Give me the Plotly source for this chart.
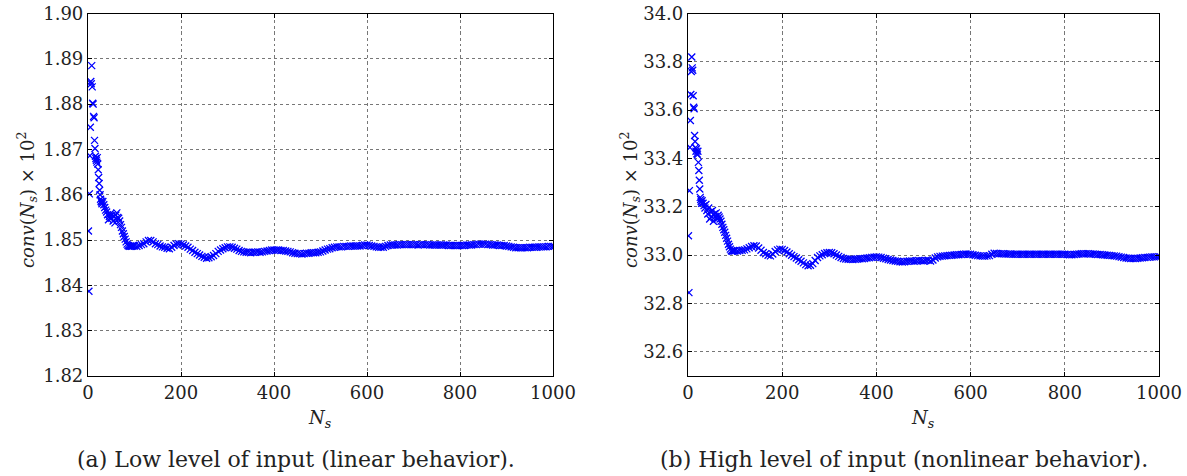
import plotly.graph_objects as go

# ---------------- data ----------------
# sample positions (N_s)
N_EARLY = list(range(1, 31)) + list(range(32, 100, 2))
N_TAIL = list(range(100, 1001, 5))

# (a) low level of input
CONV_A_EARLY = [
    1.8520, 1.8387, 1.8602, 1.8686, 1.8749, 1.8850, 1.8845, 1.8885, 1.8838, 1.8802,
    1.8800, 1.8773, 1.8770, 1.8720, 1.8702, 1.8685, 1.8680, 1.8676, 1.8672, 1.8682,
    1.8668, 1.8655, 1.8638, 1.8625, 1.8610, 1.8600, 1.8590, 1.8586, 1.8584, 1.8580,
    # 32..98 step 2
    1.8585, 1.8578, 1.8572, 1.8566, 1.8562, 1.8556, 1.8545, 1.8552, 1.8558, 1.8548,
    1.8555, 1.8542, 1.8552, 1.8538, 1.8555, 1.8560, 1.8550, 1.8548, 1.8542, 1.8534,
    1.8528, 1.8520, 1.8514, 1.8508, 1.8502, 1.8496, 1.8491, 1.8488, 1.8487, 1.8486,
    1.8487, 1.8486, 1.8487, 1.8488,
]
CONV_A_TAIL = [
    1.8487, 1.8486, 1.8488, 1.8490, 1.8492, 1.8496, 1.8499, 1.8499, 1.8496, 1.8492,
    1.8490, 1.8487, 1.8485, 1.8484, 1.8482, 1.8481, 1.8484, 1.8488, 1.8491, 1.8492,
    1.8491, 1.8489, 1.8487, 1.8484, 1.8480, 1.8477, 1.8473, 1.8470, 1.8467, 1.8464,
    1.8462, 1.8460, 1.8461, 1.8463, 1.8466, 1.8470, 1.8475, 1.8478, 1.8481, 1.8483,
    1.8485, 1.8485, 1.8484, 1.8482, 1.8480, 1.8477, 1.8475, 1.8474, 1.8473, 1.8473,
    1.8472, 1.8473, 1.8473, 1.8474, 1.8473, 1.8474, 1.8475, 1.8476, 1.8477, 1.8478,
    1.8478, 1.8478, 1.8478, 1.8477, 1.8477, 1.8476, 1.8475, 1.8474, 1.8472, 1.8471,
    1.8470, 1.8470, 1.8469, 1.8470, 1.8471, 1.8471, 1.8472, 1.8472, 1.8472, 1.8473,
    1.8474, 1.8476, 1.8478, 1.8480, 1.8481, 1.8483, 1.8484, 1.8485, 1.8485, 1.8485,
    1.8486, 1.8486, 1.8486, 1.8487, 1.8487, 1.8487, 1.8487, 1.8487, 1.8488, 1.8489,
    1.8489, 1.8488, 1.8487, 1.8486, 1.8485, 1.8484, 1.8484, 1.8484, 1.8486, 1.8488,
    1.8489, 1.8489, 1.8489, 1.8489, 1.8490, 1.8490, 1.8490, 1.8490, 1.8490, 1.8490,
    1.8490, 1.8490, 1.8489, 1.8490, 1.8490, 1.8490, 1.8490, 1.8489, 1.8489, 1.8489,
    1.8489, 1.8489, 1.8489, 1.8489, 1.8489, 1.8488, 1.8488, 1.8488, 1.8488, 1.8488,
    1.8488, 1.8488, 1.8488, 1.8489, 1.8489, 1.8489, 1.8490, 1.8490, 1.8491, 1.8491,
    1.8491, 1.8491, 1.8490, 1.8490, 1.8489, 1.8489, 1.8489, 1.8488, 1.8488, 1.8488,
    1.8487, 1.8486, 1.8485, 1.8484, 1.8483, 1.8483, 1.8483, 1.8483, 1.8483, 1.8483,
    1.8484, 1.8484, 1.8484, 1.8484, 1.8485, 1.8485, 1.8485, 1.8485, 1.8486, 1.8486,
    1.8486,
]

# (b) high level of input
CONV_B_EARLY = [
    33.080, 32.845, 33.267, 33.446, 33.557, 33.665, 33.760, 33.820, 33.775, 33.765,
    33.660, 33.612, 33.606, 33.495, 33.470, 33.445, 33.430, 33.440, 33.420, 33.415,
    33.430, 33.384, 33.350, 33.310, 33.274, 33.239, 33.230, 33.222, 33.215, 33.225,
    # 32..98 step 2
    33.215, 33.205, 33.195, 33.210, 33.185, 33.170, 33.195, 33.150, 33.180, 33.160,
    33.185, 33.140, 33.170, 33.160, 33.175, 33.150, 33.165, 33.158, 33.150, 33.140,
    33.128, 33.115, 33.105, 33.095, 33.082, 33.070, 33.058, 33.045, 33.035, 33.025,
    33.018, 33.016, 33.018, 33.017,
]
CONV_B_TAIL = [
    33.018, 33.017, 33.019, 33.020, 33.022, 33.026, 33.031, 33.036, 33.039, 33.038,
    33.030, 33.020, 33.011, 33.006, 33.000, 32.997, 33.005, 33.015, 33.022, 33.025,
    33.024, 33.019, 33.013, 33.006, 33.000, 32.994, 32.988, 32.981, 32.975, 32.968,
    32.961, 32.956, 32.958, 32.965, 32.978, 32.990, 32.997, 33.002, 33.007, 33.010,
    33.011, 33.010, 33.006, 33.001, 32.995, 32.990, 32.986, 32.984, 32.983, 32.983,
    32.982, 32.983, 32.984, 32.985, 32.985, 32.986, 32.988, 32.989, 32.991, 32.992,
    32.993, 32.992, 32.990, 32.987, 32.985, 32.982, 32.980, 32.978, 32.976, 32.975,
    32.973, 32.972, 32.973, 32.975, 32.976, 32.976, 32.975, 32.977, 32.978, 32.977,
    32.976, 32.978, 32.979, 32.976, 32.980, 32.988, 32.993, 32.995, 32.996, 32.997,
    32.998, 32.999, 33.000, 33.001, 33.002, 33.002, 33.003, 33.004, 33.005, 33.004,
    33.004, 33.002, 33.000, 32.998, 32.997, 32.996, 32.996, 32.997, 32.998, 33.004,
    33.008, 33.007, 33.006, 33.006, 33.006, 33.005, 33.005, 33.005, 33.004, 33.004,
    33.004, 33.004, 33.004, 33.004, 33.004, 33.004, 33.004, 33.004, 33.004, 33.004,
    33.004, 33.004, 33.004, 33.004, 33.004, 33.004, 33.004, 33.004, 33.004, 33.004,
    33.004, 33.003, 33.002, 33.002, 33.003, 33.004, 33.005, 33.006, 33.006, 33.006,
    33.006, 33.005, 33.005, 33.004, 33.003, 33.003, 33.002, 33.001, 33.000, 32.999,
    32.998, 32.997, 32.996, 32.994, 32.992, 32.990, 32.988, 32.987, 32.986, 32.986,
    32.986, 32.987, 32.988, 32.989, 32.990, 32.991, 32.992, 32.993, 32.993, 32.993,
    32.994,
]

X_TICKS = [0, 200, 400, 600, 800, 1000]
Y_TICKS_A = [1.82, 1.83, 1.84, 1.85, 1.86, 1.87, 1.88, 1.89, 1.90]
Y_TICKS_B = [32.6, 32.8, 33.0, 33.2, 33.4, 33.6, 33.8, 34.0]

Y_TITLE = "<i>conv</i>(<i>N<sub>s</sub></i>) × 10<sup>2</sup>"
X_TITLE = "<i>N<sub>s</sub></i>"
CAPTION_A = "(a) Low level of input (linear behavior)."
CAPTION_B = "(b) High level of input (nonlinear behavior)."

# ---------------- figure ----------------
W, H = 1187, 476
FONT = "DejaVu Serif"

def px_x(p):
    return p / W

def px_y(p):
    return 1 - p / H

marker = dict(symbol="x-thin", size=7, color="blue", line=dict(width=1.3, color="blue"))

fig = go.Figure()
fig.add_trace(go.Scatter(x=N_EARLY + N_TAIL, y=CONV_A_EARLY + CONV_A_TAIL, mode="markers",
                         marker=marker, xaxis="x", yaxis="y", showlegend=False))
fig.add_trace(go.Scatter(x=N_EARLY + N_TAIL, y=CONV_B_EARLY + CONV_B_TAIL, mode="markers",
                         marker=marker, xaxis="x2", yaxis="y2", showlegend=False))

axis_common = dict(
    showline=True, linecolor="black", linewidth=1.2, mirror="ticks",
    ticks="inside", ticklen=4, tickcolor="black", tickwidth=1,
    showgrid=True, gridcolor="#777777", griddash="dot", gridwidth=1,
    zeroline=False, automargin=False,
    tickfont=dict(family=FONT, size=18, color="#222222"),
)

top, bottom = 13.5, 376
fig.update_layout(
    width=W, height=H, margin=dict(l=0, r=0, t=0, b=0, pad=0), autosize=False,
    paper_bgcolor="white", plot_bgcolor="white",
    xaxis=dict(domain=[px_x(88), px_x(553)], range=[0, 1000], tickvals=X_TICKS,
               anchor="y", **axis_common),
    yaxis=dict(domain=[px_y(bottom), px_y(top)], range=[1.82, 1.90], tickvals=Y_TICKS_A,
               tickformat=".2f", anchor="x", **axis_common),
    xaxis2=dict(domain=[px_x(688), px_x(1159)], range=[0, 1000], tickvals=X_TICKS,
                anchor="y2", **axis_common),
    yaxis2=dict(domain=[px_y(bottom), px_y(top)], range=[32.5, 34.0], tickvals=Y_TICKS_B,
                tickformat=".1f", anchor="x2", **axis_common),
)

ann_font = dict(family=FONT, size=18, color="#222222")
cap_font = dict(family=FONT, size=22, color="#222222")
annotations = [
    dict(text=Y_TITLE, x=px_x(27), y=px_y(200), textangle=-90, font=ann_font),
    dict(text=Y_TITLE, x=px_x(630), y=px_y(200), textangle=-90, font=ann_font),
    dict(text=X_TITLE, x=px_x(320), y=px_y(419), font=ann_font),
    dict(text=X_TITLE, x=px_x(923), y=px_y(419), font=ann_font),
    dict(text=CAPTION_A, x=px_x(296), y=px_y(459), font=cap_font),
    dict(text=CAPTION_B, x=px_x(904), y=px_y(459), font=cap_font),
]
for a in annotations:
    a.update(xref="paper", yref="paper", showarrow=False, xanchor="center", yanchor="middle")
fig.update_layout(annotations=annotations)

fig.write_html("out.html")
